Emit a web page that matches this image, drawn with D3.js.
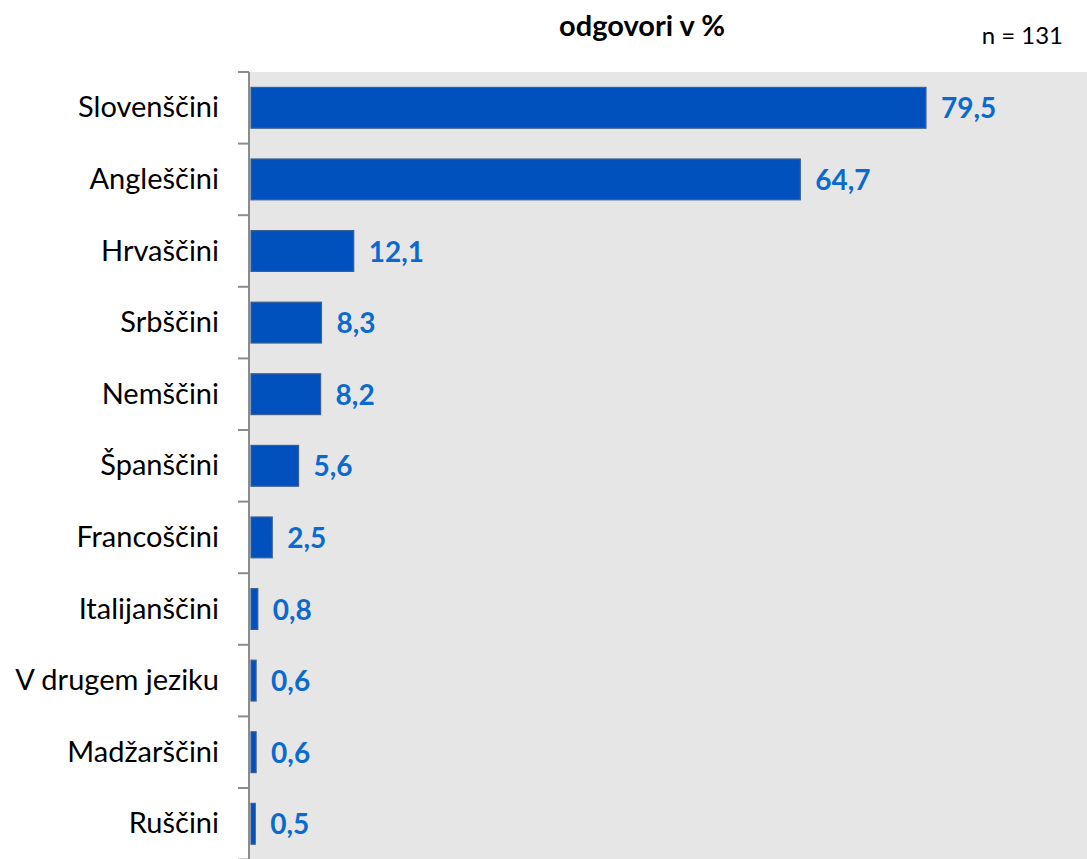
<!DOCTYPE html>
<html>
<head>
<meta charset="utf-8">
<script src="https://cdn.jsdelivr.net/npm/d3@7"></script>
<style>
body { margin: 0; background: #fff; }
text { font-family: Lato, "Open Sans", sans-serif; }
</style>
</head>
<body>
<svg id="chart" width="1087" height="859"></svg>
<script>
var languages = ["Slovenščini", "Angleščini", "Hrvaščini", "Srbščini", "Nemščini", "Španščini",
                 "Francoščini", "Italijanščini", "V drugem jeziku", "Madžarščini", "Ruščini"];
var shares = [79.5, 64.7, 12.1, 8.3, 8.2, 5.6, 2.5, 0.8, 0.6, 0.6, 0.5];
var title = "odgovori v %";
var sampleNote = "n = 131";

var svg = d3.select("#chart"),
    width = +svg.attr("width"),
    height = +svg.attr("height");

var plotLeft = 250, plotTop = 72, plotBottom = 859;

var x = d3.scaleLinear().domain([0, 100]).range([plotLeft, plotLeft + 849]);
var y = d3.scaleBand().domain(languages).range([plotTop, plotTop + 11 * 71.6]).paddingInner(0.43).paddingOuter(0.215);

// plot background
svg.append("rect")
    .attr("x", plotLeft)
    .attr("y", plotTop)
    .attr("width", width - plotLeft)
    .attr("height", plotBottom - plotTop)
    .attr("fill", "#e6e6e6");

// bars
svg.append("g")
    .selectAll("rect")
    .data(shares)
    .enter().append("rect")
    .attr("x", x(0) + 1)
    .attr("y", function (d, i) { return y(languages[i]); })
    .attr("width", function (d) { return x(d) - x(0); })
    .attr("height", y.bandwidth())
    .attr("fill", "#0050be")
    .attr("stroke", "#3d5f8f")
    .attr("stroke-width", 1.2);

// value labels
svg.append("g")
    .selectAll("text")
    .data(shares)
    .enter().append("text")
    .attr("x", function (d) { return x(d) + 16; })
    .attr("y", function (d, i) { return y(languages[i]) + y.bandwidth() / 2; })
    .attr("dy", "0.38em")
    .attr("fill", "#0a6ad0")
    .attr("font-size", 28)
    .attr("font-weight", "bold")
    .text(function (d) { return d.toFixed(1).replace(".", ","); });

// category axis with ticks at band boundaries
var step = y.step();
var bounds = d3.range(languages.length + 1).map(function (i) { return plotTop + i * step; });
var axis = svg.append("g");
axis.append("line")
    .attr("x1", plotLeft - 1).attr("x2", plotLeft - 1)
    .attr("y1", plotTop).attr("y2", plotBottom)
    .attr("stroke", "#8c8c8c").attr("stroke-width", 2);
axis.selectAll(".tick")
    .data(bounds)
    .enter().append("line")
    .attr("x1", plotLeft - 12).attr("x2", plotLeft - 1)
    .attr("y1", function (d) { return d; })
    .attr("y2", function (d) { return d; })
    .attr("stroke", "#8c8c8c").attr("stroke-width", 2);

axis.selectAll(".lbl")
    .data(languages)
    .enter().append("text")
    .attr("x", 219)
    .attr("y", function (d) { return y(d) + y.bandwidth() / 2; })
    .attr("dy", "0.33em")
    .attr("text-anchor", "end")
    .attr("font-size", 29)
    .attr("fill", "#000")
    .text(function (d) { return d; });

svg.append("text")
    .attr("x", 642)
    .attr("y", 36)
    .attr("text-anchor", "middle")
    .attr("font-size", 29)
    .attr("font-weight", "bold")
    .text(title);

svg.append("text")
    .attr("x", 1063)
    .attr("y", 44)
    .attr("text-anchor", "end")
    .attr("font-size", 24)
    .text(sampleNote);
</script>
</body>
</html>
